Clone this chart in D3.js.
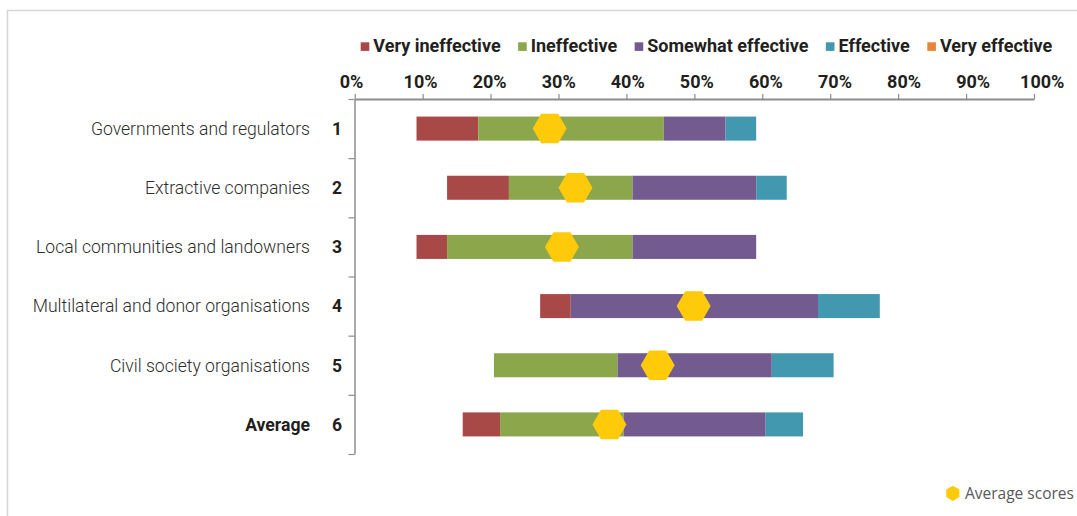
<!DOCTYPE html>
<html>
<head>
<meta charset="utf-8">
<script src="https://cdn.jsdelivr.net/npm/d3@7"></script>
<style>
  html, body { margin: 0; padding: 0; background: #fff; }
  svg { display: block; }
</style>
</head>
<body>
<svg id="chart" width="1077" height="516"></svg>
<script>
// Stakeholder effectiveness ratings, share of responses (%)
const categories = [
  "Governments and regulators",
  "Extractive companies",
  "Local communities and landowners",
  "Multilateral and donor organisations",
  "Civil society organisations",
  "Average"
];
const rowNumbers = ["1", "2", "3", "4", "5", "6"];
// blank lead-in that positions each bar along the axis
const leadIn          = [9.1, 13.6, 9.1, 27.3, 20.5, 15.9];
const veryIneffective = [9.1, 9.1, 4.5, 4.5, 0, 5.5];
const ineffective     = [27.3, 18.2, 27.3, 0, 18.2, 18.2];
const somewhat        = [9.1, 18.2, 18.2, 36.4, 22.7, 20.9];
const effective       = [4.5, 4.5, 0, 9.1, 9.1, 5.5];
const veryEffective   = [0, 0, 0, 0, 0, 0];
const averageScores   = [28.7, 32.5, 30.5, 49.9, 44.6, 37.5];
const seriesNames = ["Very ineffective", "Ineffective", "Somewhat effective", "Effective", "Very effective"];
const seriesColors = ["#A94947", "#8BA64B", "#735A8F", "#4298AF", "#E8843A"];
const tickValues = [0, 10, 20, 30, 40, 50, 60, 70, 80, 90, 100];
const averageLegend = "Average scores";

const svg = d3.select("#chart");
const textDark = "#231f20";
const axisGrey = "#8c8c8c";

// frame
svg.append("rect")
  .attr("x", 7.5).attr("y", 10.5)
  .attr("width", 1200).attr("height", 600)
  .attr("fill", "none").attr("stroke", "#d6d6d6").attr("stroke-width", 1.5);

// scales
const x = d3.scaleLinear().domain([0, 100]).range([354.7, 1034]);
const xLabel = d3.scaleLinear().domain([0, 100]).range([351, 1041.7]);
const y = d3.scaleBand().domain(rowNumbers).range([99, 454]).padding(0);
const yEdge = d3.scaleLinear().domain([0, rowNumbers.length]).range([99, 454]);
const barH = y.bandwidth() * 0.406;

// stacked data
const keys = ["lead", ...seriesNames];
const cols = [leadIn, veryIneffective, ineffective, somewhat, effective, veryEffective];
const table = rowNumbers.map((r, i) => {
  const o = { row: r };
  keys.forEach((k, j) => { o[k] = cols[j][i]; });
  return o;
});
const stacked = d3.stack().keys(keys)(table);

// bars (the lead-in layer is left undrawn)
svg.append("g").selectAll("g")
  .data(stacked.slice(1))
  .join("g")
  .attr("fill", (d, i) => seriesColors[i])
  .selectAll("rect")
  .data(d => d.filter(s => s[1] - s[0] > 0))
  .join("rect")
  .attr("x", d => x(d[0]))
  .attr("width", d => x(d[1]) - x(d[0]))
  .attr("y", d => y(d.data.row) + (y.bandwidth() - barH) / 2)
  .attr("height", barH);

// average score markers
function hexPath(r, rot) {
  const pts = d3.range(6).map(k => {
    const a = (Math.PI / 3) * k + rot;
    return [r * Math.cos(a), r * Math.sin(a)];
  });
  return d3.line()(pts) + "Z";
}
svg.append("g").selectAll("path")
  .data(averageScores)
  .join("path")
  .attr("d", hexPath(17, 0))
  .attr("transform", (d, i) => `translate(${x(d)},${y(rowNumbers[i]) + y.bandwidth() / 2})`)
  .attr("fill", "#FFCA0A");

// top axis: line and ticks
const gx = svg.append("g").attr("transform", "translate(0,99)")
  .call(d3.axisTop(x).tickValues(tickValues).tickSize(5).tickSizeOuter(0).tickFormat(""));
gx.select(".domain").attr("stroke", axisGrey).attr("stroke-width", 2);
gx.selectAll(".tick line").attr("stroke", axisGrey).attr("stroke-width", 1.2);

// top axis labels
const gxl = svg.append("g").attr("transform", "translate(0,88)")
  .call(d3.axisTop(xLabel).tickValues(tickValues).tickSize(0).tickPadding(0).tickFormat(d => d + "%"));
gxl.select(".domain").remove();
gxl.selectAll("text")
  .attr("font-family", "Roboto").attr("font-weight", 700).attr("font-size", 18)
  .attr("fill", textDark).attr("dy", 0);

// left axis with ticks at category boundaries
const gy = svg.append("g").attr("transform", "translate(354.5,0)")
  .call(d3.axisLeft(yEdge).ticks(rowNumbers.length).tickSize(6).tickSizeOuter(0).tickFormat(""));
gy.select(".domain").attr("stroke", axisGrey).attr("stroke-width", 1.5);
gy.selectAll(".tick line").attr("stroke", axisGrey).attr("stroke-width", 1.2);

// row numbers
svg.append("g").selectAll("text")
  .data(rowNumbers)
  .join("text")
  .attr("x", 337)
  .attr("y", d => y(d) + y.bandwidth() / 2)
  .attr("dy", "0.36em")
  .attr("text-anchor", "middle")
  .attr("font-family", "Roboto").attr("font-weight", 700).attr("font-size", 17.5)
  .attr("fill", textDark)
  .text(d => d);

// category names
svg.append("g").selectAll("text")
  .data(categories)
  .join("text")
  .attr("x", 310)
  .attr("y", (d, i) => y(rowNumbers[i]) + y.bandwidth() / 2)
  .attr("dy", "0.36em")
  .attr("text-anchor", "end")
  .attr("font-family", "Roboto")
  .attr("font-weight", (d, i) => i === categories.length - 1 ? 700 : 300)
  .attr("font-size", 17.6)
  .attr("fill", (d, i) => i === categories.length - 1 ? textDark : "#2e2e2e")
  .text(d => d);

// series legend
const legend = svg.append("g");
let lx = 360.7;
seriesNames.forEach((name, i) => {
  legend.append("rect")
    .attr("x", lx).attr("y", 42.3).attr("width", 8.6).attr("height", 8.6)
    .attr("fill", seriesColors[i]);
  const t = legend.append("text")
    .attr("x", lx + 12.6).attr("y", 51.6)
    .attr("font-family", "Roboto").attr("font-weight", 700).attr("font-size", 18)
    .attr("fill", textDark)
    .text(name);
  lx += 12.6 + t.node().getComputedTextLength() + 17.5;
});

// marker legend
svg.append("path")
  .attr("d", hexPath(7.6, Math.PI / 6))
  .attr("transform", "translate(952.8,493.3)")
  .attr("fill", "#FFCA0A");
svg.append("text")
  .attr("x", 965).attr("y", 493.3).attr("dy", "0.36em")
  .attr("font-family", "Open Sans").attr("font-size", 15.5)
  .attr("fill", "#595959")
  .text(averageLegend);
</script>
</body>
</html>
